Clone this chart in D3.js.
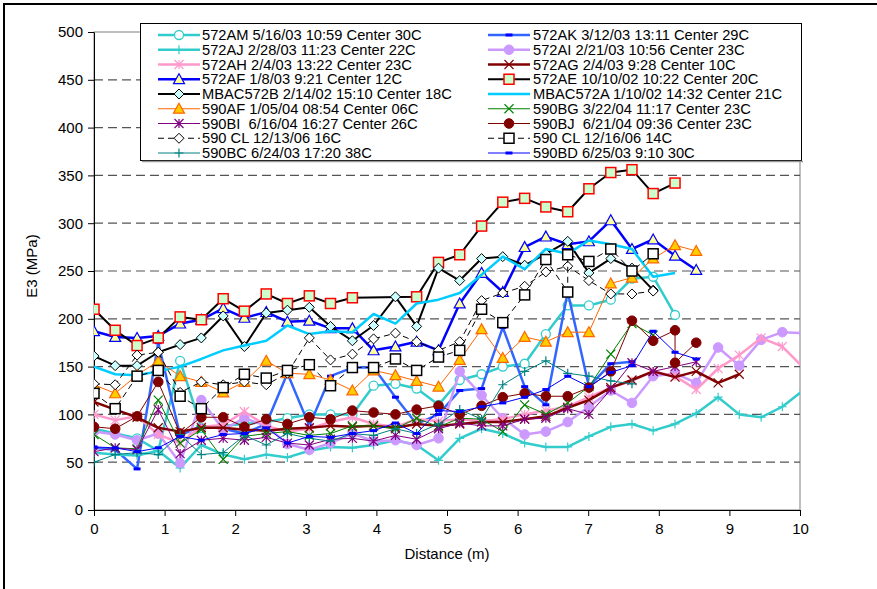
<!DOCTYPE html>
<html><head><meta charset="utf-8">
<script src="https://cdn.jsdelivr.net/npm/d3@7"></script>
<style>body{margin:0;background:#fff}svg{display:block;font-family:"Liberation Sans",Arial,sans-serif}</style>
</head><body><svg id="c" width="877" height="589"></svg>
<script>
// ---------- DATA ----------
const distance = [0.00,0.30,0.61,0.91,1.22,1.52,1.83,2.13,2.44,2.74,3.05,3.35,3.66,3.96,4.27,4.57,4.88,5.18,5.49,5.79,6.10,6.40,6.71,7.01,7.32,7.62,7.92,8.23,8.53,8.84,9.14,9.45,9.75,10.06];
const xTicks = [0,1,2,3,4,5,6,7,8,9,10];
const yTicks = [0,50,100,150,200,250,300,350,400,450,500];

const s572AM = [85,80,75,62,156,86,88,90,92,96,100,100,100,130,132,127,110,136,142,150,153,184,214,214,220,242,244,204];
const s572AK = [65,63,43,175,78,88,85,80,90,143,88,140,149,149,118,90,100,125,127,191,129,110,228,129,153,155];
const s572AJ = [60,58,57,62,44,68,58,53,58,55,62,66,65,68,73,68,52,75,85,80,70,66,66,77,87,90,83,90,101,118,100,97,108,126];
const s572AI = [82,79,73,80,49,115,84,96,88,69,63,70,80,72,73,68,75,145,120,96,79,82,92,108,125,112,140,143,133,170,151,178,186,185];
const s572AH = [100,94,98,79,70,87,89,103,88,82,85,92,97,90,87,95,93,95,93,95,100,104,108,118,128,135,145,140,126,148,162,180,171,148];
const s572AG = [113,105,97,86,82,86,86,84,83,85,86,88,87,88,86,90,88,90,92,92,95,98,107,115,128,136,145,139,145,133,142];
const s572AF = [187,181,180,182,195,199,211,201,207,197,198,190,190,167,171,176,167,216,248,228,275,286,278,281,303,273,283,266,251];
const s572AE = [210,188,172,180,202,199,221,208,226,216,224,216,222,null,null,223,259,267,297,322,326,317,312,336,353,356,331,342];
const sMBAC572B = [161,151,151,165,173,180,203,171,206,209,212,192,177,193,223,192,253,240,263,265,256,268,281,248,263,253,230];
const sMBAC572A = [150,142,141,145,150,158,167,172,177,193,184,187,186,205,195,216,220,227,246,265,252,273,268,282,278,273,244,248];
const s590AF = [131,122,141,156,140,134,123,134,156,143,142,136,125,146,141,135,129,157,189,159,181,176,186,186,237,243,263,277,271];
const s590BG = [79,65,64,115,70,84,53,77,80,82,78,80,88,88,85,96,87,96,95,82,110,100,112,129,163,195,183];
const s590BI = [61,65,63,105,59,73,75,73,76,70,68,74,75,72,78,74,85,91,88,88,95,96,106,100,126,154,145,150,155];
const d590BJ = [0.00,0.30,0.61,0.91,1.22,1.52,1.83,2.13,2.44,2.74,3.05,3.35,3.66,3.96,4.27,4.57,4.88,5.18,5.49,5.79,6.10,6.40,6.71,7.01,7.32,7.62,7.92,8.23,8.23,8.53];
const s590BJ = [87,85,98,134,80,97,97,87,95,90,97,95,104,102,100,105,109,100,109,118,122,119,119,128,145,198,177,188,154,175];
const s590CL13 = [132,131,162,165,123,134,131,134,131,143,180,157,163,179,185,176,167,176,219,227,234,249,255,240,226,226,229];
const d590CL16 = [0.00,0.30,0.61,0.91,1.22,1.52,1.83,2.13,2.44,2.74,3.05,3.35,3.66,3.96,4.27,4.57,4.88,5.18,5.49,5.79,6.10,6.40,6.71,6.71,7.01,7.32,7.62,7.92];
const s590CL16 = [122,106,140,146,119,106,128,142,138,146,152,130,149,149,158,146,160,167,210,196,225,262,228,267,260,273,250,268];
const s590BC = [50,58,60,58,79,58,60,78,68,80,75,72,80,78,85,80,90,105,95,131,145,156,143,140,135,132];
const s590BD = [66,65,61,65,77,73,79,80,86,70,77,76,80,83,91,80,104,103,108,112,118,126,140,129,144,151,187,165,158];

const names = ["572AM 5/16/03 10:59 Center 30C","572AK 3/12/03 13:11 Center 29C","572AJ 2/28/03 11:23 Center 22C","572AI 2/21/03 10:56 Center 23C","572AH 2/4/03 13:22 Center 23C","572AG 2/4/03 9:28 Center 10C","572AF 1/8/03 9:21 Center 12C","572AE 10/10/02 10:22 Center 20C","MBAC572B 2/14/02 15:10 Center 18C","MBAC572A 1/10/02 14:32 Center 21C","590AF 1/05/04 08:54 Center 06C","590BG 3/22/04 11:17 Center 23C","590BI  6/16/04 16:27 Center 26C","590BJ  6/21/04 09:36 Center 23C","590 CL 12/13/06 16C","590 CL 12/16/06 14C","590BC 6/24/03 17:20 38C","590BD 6/25/03 9:10 30C"];
const valueLists = [s572AM,s572AK,s572AJ,s572AI,s572AH,s572AG,s572AF,s572AE,sMBAC572B,sMBAC572A,s590AF,s590BG,s590BI,s590BJ,s590CL13,s590CL16,s590BC,s590BD];
const xLists = [distance,distance,distance,distance,distance,distance,distance,distance,distance,distance,distance,distance,distance,d590BJ,distance,d590CL16,distance,distance];

// ---------- STYLES ----------
const styles = [
 {c:"#33CCCC",w:2.5,m:"circleOpen",mf:"#fff",ms:"#33CCCC"},
 {c:"#3366FF",w:2.5,m:"bar",mf:"#0000FF",ms:"#0000FF"},
 {c:"#33CCCC",w:2.5,m:"plus",ms:"#33CCCC"},
 {c:"#CC99FF",w:2.5,m:"circle",mf:"#CC99FF",ms:"#CC99FF"},
 {c:"#FF99CC",w:2.5,m:"asterisk",ms:"#FF99CC"},
 {c:"#800000",w:2.5,m:"x",ms:"#800000"},
 {c:"#0000FF",w:2.5,m:"triangle",mf:"#FFFF99",ms:"#0000FF"},
 {c:"#000000",w:2,m:"square",mf:"#CCFFCC",ms:"#FF0000"},
 {c:"#000000",w:2,m:"diamond",mf:"#CCFFFF",ms:"#000000"},
 {c:"#00CCFF",w:2.5,m:"none"},
 {c:"#FF6600",w:1,m:"triangle",mf:"#FFCC00",ms:"#FF6600"},
 {c:"#008000",w:1,m:"x",ms:"#008000"},
 {c:"#800080",w:1,m:"asterisk",ms:"#800080"},
 {c:"#800000",w:1,m:"circle",mf:"#800000",ms:"#800000"},
 {c:"#000000",w:1,dash:"6,4",m:"diamond",mf:"#fff",ms:"#000000"},
 {c:"#000000",w:1,dash:"6,4",m:"square",mf:"#fff",ms:"#000000"},
 {c:"#008080",w:1,m:"plus",ms:"#008080"},
 {c:"#0000FF",w:1,m:"bar",mf:"#0000FF",ms:"#0000FF"}
];

// ---------- CHART ----------
const svg = d3.select("#c");
const L=94,R=800,T=32,B=510;
const x = d3.scaleLinear().domain([0,10]).range([L,R]);
const y = d3.scaleLinear().domain([0,500]).range([B,T]);

svg.append("rect").attr("width",877).attr("height",589).attr("fill","#fff");
svg.append("path").attr("d","M4,589 L4,4 L877,4").attr("fill","none").attr("stroke","#000").attr("stroke-width",2);

svg.append("rect").attr("x",L).attr("y",T).attr("width",R-L).attr("height",B-T).attr("fill","none").attr("stroke","#808080").attr("stroke-width",1);

svg.append("g").selectAll("line").data(yTicks.filter(v=>v>0&&v<500)).join("line")
 .attr("x1",L).attr("x2",R).attr("y1",d=>y(d)).attr("y2",d=>y(d))
 .attr("stroke","#555").attr("stroke-width",1.2).attr("stroke-dasharray","9,5");

const ya = svg.append("g").attr("transform",`translate(${L},0)`)
 .call(d3.axisLeft(y).tickValues(yTicks).tickSize(6).tickSizeOuter(0).tickPadding(5));
const xa = svg.append("g").attr("transform",`translate(0,${B})`)
 .call(d3.axisBottom(x).tickValues(xTicks).tickSize(6).tickSizeOuter(0).tickPadding(7));
[ya,xa].forEach(a=>{a.selectAll("text").attr("font-size",15).attr("fill","#000").attr("font-family","Liberation Sans, Arial, sans-serif");
 a.selectAll("line,path").attr("stroke","#000");});

svg.append("text").attr("x",(L+R)/2).attr("y",559).attr("text-anchor","middle").attr("font-size",15).text("Distance (m)");
svg.append("text").attr("transform",`translate(37,266) rotate(-90)`).attr("text-anchor","middle").attr("font-size",15).text("E3 (MPa)");

svg.append("clipPath").attr("id","clip").append("rect").attr("x",L).attr("y",T-6).attr("width",R-L).attr("height",B-T+12);

function marker(g,type,cx,cy,st){
  if(type==="none") return;
  if(type==="circleOpen"){g.append("circle").attr("cx",cx).attr("cy",cy).attr("r",4.5).attr("fill","#fff").attr("stroke",st.ms).attr("stroke-width",1.3);}
  else if(type==="circle"){g.append("circle").attr("cx",cx).attr("cy",cy).attr("r",4.8).attr("fill",st.mf).attr("stroke",st.ms);}
  else if(type==="square"){const h=5;g.append("rect").attr("x",cx-h).attr("y",cy-h).attr("width",2*h).attr("height",2*h).attr("fill",st.mf).attr("stroke",st.ms).attr("stroke-width",1.5);}
  else if(type==="diamond"){const h=5;g.append("path").attr("d",`M${cx},${cy-h}L${cx+h},${cy}L${cx},${cy+h}L${cx-h},${cy}Z`).attr("fill",st.mf).attr("stroke",st.ms).attr("stroke-width",1);}
  else if(type==="triangle"){const h=5.5;g.append("path").attr("d",`M${cx},${cy-h}L${cx+h},${cy+h*0.8}L${cx-h},${cy+h*0.8}Z`).attr("fill",st.mf).attr("stroke",st.ms).attr("stroke-width",1.2);}
  else if(type==="plus"){const h=4.5;g.append("path").attr("d",`M${cx-h},${cy}H${cx+h}M${cx},${cy-h}V${cy+h}`).attr("stroke",st.ms).attr("stroke-width",1.2);}
  else if(type==="x"){const h=4.5;g.append("path").attr("d",`M${cx-h},${cy-h}L${cx+h},${cy+h}M${cx-h},${cy+h}L${cx+h},${cy-h}`).attr("stroke",st.ms).attr("stroke-width",1.2);}
  else if(type==="asterisk"){const h=4.5;g.append("path").attr("d",`M${cx-h},${cy-h}L${cx+h},${cy+h}M${cx-h},${cy+h}L${cx+h},${cy-h}M${cx},${cy-h}V${cy+h}`).attr("stroke",st.ms).attr("stroke-width",1.2);}
  else if(type==="bar"){g.append("rect").attr("x",cx-3.5).attr("y",cy-1.5).attr("width",7).attr("height",3).attr("fill",st.mf);}
}

const plot = svg.append("g").attr("clip-path","url(#clip)");
const line = d3.line().x(d=>x(d[0])).y(d=>y(d[1]));
valueLists.forEach((vals,k)=>{
  const st = styles[k];
  const xs = xLists[k];
  const pts = vals.map((v,i)=>[xs[i],v]).filter(d=>d[1]!==null);
  const g = plot.append("g");
  g.append("path").datum(pts).attr("d",line).attr("fill","none").attr("stroke",st.c).attr("stroke-width",st.w)
   .attr("stroke-dasharray",st.dash||null).attr("stroke-linejoin","round");
  pts.forEach(d=>marker(g,st.m,x(d[0]),y(d[1]),st));
});

const lg = svg.append("g");
lg.append("rect").attr("x",140.5).attr("y",23.5).attr("width",661).attr("height",137).attr("fill","#fff").attr("stroke","#000");
lg.append("line").attr("x1",142).attr("x2",803).attr("y1",161.5).attr("y2",161.5).attr("stroke","#999").attr("stroke-width",1.5);
names.forEach((n,k)=>{
  const col = k%2, row = Math.floor(k/2);
  const cy = 35 + row*14.75;
  const x0 = col? 488:158, x1 = col? 530:200;
  const st = styles[k];
  lg.append("line").attr("x1",x0).attr("x2",x1).attr("y1",cy).attr("y2",cy).attr("stroke",st.c).attr("stroke-width",st.w).attr("stroke-dasharray",st.dash||null);
  marker(lg,st.m,(x0+x1)/2,cy,st);
  lg.append("text").attr("x",col?533:202).attr("y",cy+5.2).attr("font-size",14.7).style("white-space","pre").text(n);
});
</script></body></html>
